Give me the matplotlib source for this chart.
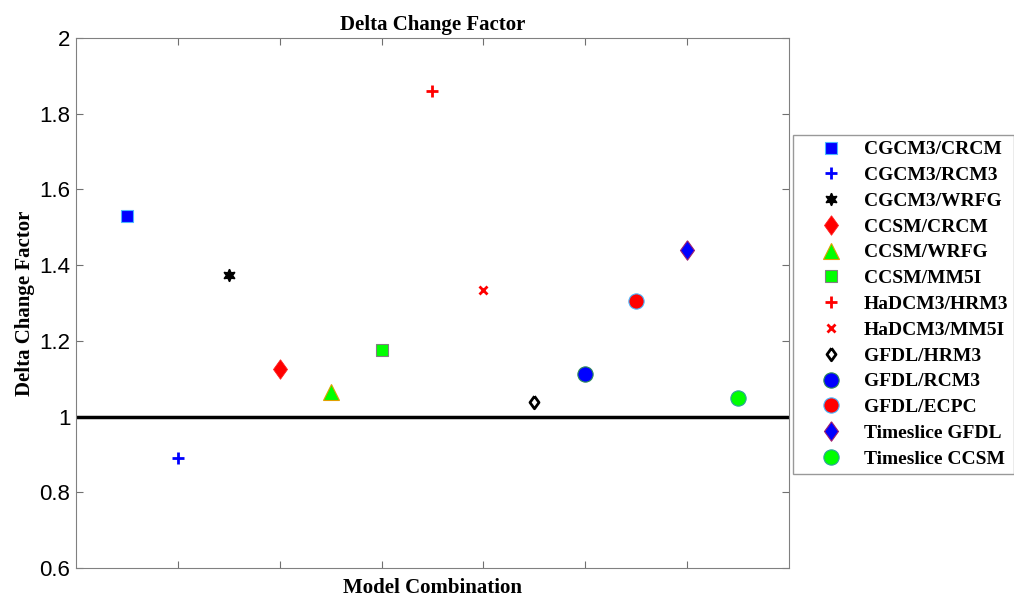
import matplotlib.pyplot as plt

# Model combinations and their delta change factors
models = ['CGCM3/CRCM', 'CGCM3/RCM3', 'CGCM3/WRFG', 'CCSM/CRCM', 'CCSM/WRFG',
          'CCSM/MM5I', 'HaDCM3/HRM3', 'HaDCM3/MM5I', 'GFDL/HRM3', 'GFDL/RCM3',
          'GFDL/ECPC', 'Timeslice GFDL', 'Timeslice CCSM']
positions = [1, 2, 3, 4, 5, 6, 7, 8, 9, 10, 11, 12, 13]
factors = [1.53, 0.89, 1.375, 1.125, 1.065, 1.175, 1.86, 1.335, 1.038, 1.113, 1.305, 1.44, 1.048]

# wide diamond like MATLAB's 'd'
dmd = [(0, 1), (0.72, 0), (0, -1), (-0.72, 0), (0, 1)]

# marker, size, face colour, edge colour, edge width
styles = [
    ('s', 9, '#0000ff', '#4db8ff', 0.8),
    ('+', 8, '#0000ff', '#0000ff', 2.0),
    ((6, 1, 0), 9, 'black', 'black', 1.0),
    (dmd, 14, '#ff0000', '#ff2020', 0.6),
    ('^', 12, '#00ff00', '#e0a000', 0.8),
    ('s', 9, '#00ff00', '#808080', 0.8),
    ('+', 8, '#ff0000', '#ff0000', 2.0),
    ('x', 6, '#ff0000', '#ff0000', 2.0),
    (dmd, 9, 'white', 'black', 2.0),
    ('o', 11, '#0000ff', '#2e8b57', 0.8),
    ('o', 11, '#ff0000', '#4db8ff', 0.8),
    (dmd, 14, '#0000ff', '#a0206e', 0.8),
    ('o', 11, '#00ff00', '#2ea0a0', 0.8),
]

plt.rcParams['font.family'] = 'Liberation Serif'

fig = plt.figure(figsize=(10.14, 5.97), dpi=100)
ax = fig.add_axes([0.075, 0.0486, 0.703, 0.888])

for name, x, y, (m, ms, fc, ec, mew) in zip(models, positions, factors, styles):
    ax.plot(x, y, linestyle='none', marker=m, markersize=ms, markerfacecolor=fc,
            markeredgecolor=ec, markeredgewidth=mew, color=fc, label=name)

ax.axhline(1, color='black', linewidth=2.5)

ax.set_xlim(0, 14)
ax.set_ylim(0.6, 2)
ax.set_xticks([2, 4, 6, 8, 10, 12])
ax.set_xticklabels([])
ax.set_yticks([0.6, 0.8, 1, 1.2, 1.4, 1.6, 1.8, 2])
ax.set_yticklabels(['0.6', '0.8', '1', '1.2', '1.4', '1.6', '1.8', '2'],
                   fontfamily='Liberation Sans', fontsize=16)
ax.tick_params(direction='in', length=5, color='#707070', top=True, right=True, pad=4)
for s in ax.spines.values():
    s.set_color('#808080')

ax.set_title('Delta Change Factor', fontweight='bold', fontsize=15, pad=6)
ax.set_xlabel('Model Combination', fontweight='bold', fontsize=15, labelpad=3)
ax.set_ylabel('Delta Change Factor', fontweight='bold', fontsize=15, labelpad=3)

leg = fig.legend(loc='upper left', bbox_to_anchor=(0.782, 0.774), borderaxespad=0,
                 prop={'weight': 'bold', 'size': 14}, frameon=True, fancybox=False,
                 labelspacing=0.42, handlelength=3.3, handletextpad=0.05,
                 borderpad=0.3, numpoints=1)
leg.get_frame().set_edgecolor('#808080')
leg.get_frame().set_linewidth(1.0)

fig.savefig('out.png', dpi=100)
